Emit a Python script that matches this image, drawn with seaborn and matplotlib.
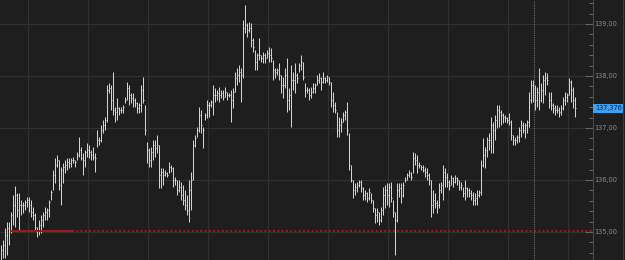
import matplotlib
matplotlib.use("Agg")
import matplotlib.pyplot as plt
import matplotlib.transforms as mtransforms
from matplotlib.lines import Line2D
from matplotlib.ticker import MultipleLocator, FuncFormatter
import pandas as pd
import seaborn as sns

# OHLC-style bars (one bar every ~2 px)
highs = [
    134.75, 134.85, 135.08, 135.19, 135.19, 135.38, 135.71, 135.89, 135.75, 135.75,
    135.62, 135.58, 135.62, 135.67, 135.67, 135.62, 135.48, 135.37, 135.10, 135.23,
    135.33, 135.38, 135.48, 135.46, 135.62, 135.81, 136.19, 136.42, 136.48, 136.38,
    136.25, 136.33, 136.38, 136.42, 136.42, 136.42, 136.44, 136.38, 136.54, 136.83,
    136.63, 136.52, 136.58, 136.71, 136.67, 136.58, 136.63, 136.52, 136.96, 136.83,
    137.06, 137.15, 137.21, 137.83, 137.87, 137.83, 138.08, 137.40, 137.58, 137.40,
    137.40, 137.44, 137.60, 137.88, 137.83, 137.67, 137.67, 137.58, 137.50, 137.48,
    137.83, 137.98, 137.44, 136.73, 136.62, 136.63, 136.77, 136.77, 136.87, 136.67,
    136.23, 136.23, 136.19, 136.15, 136.35, 136.29, 136.25, 136.06, 136.00, 136.00,
    135.96, 135.90, 135.81, 135.71, 136.00, 136.15, 136.77, 136.87, 137.02, 137.40,
    137.35, 137.02, 137.29, 137.54, 137.50, 137.54, 137.83, 137.77, 137.73, 137.79,
    137.73, 137.73, 137.79, 137.69, 137.67, 137.73, 137.77, 138.08, 138.15, 138.21,
    138.15, 139.08, 139.37, 139.02, 139.04, 139.02, 138.73, 138.50, 138.44, 138.73,
    138.40, 138.46, 138.44, 138.50, 138.56, 138.54, 138.31, 138.15, 138.15, 138.25,
    138.02, 137.98, 138.15, 138.35, 137.77, 138.21, 138.08, 138.25, 138.06, 138.25,
    138.40, 138.27, 137.87, 137.79, 137.77, 137.79, 137.87, 137.87, 138.02, 138.06,
    137.98, 138.08, 137.98, 138.02, 137.98, 137.88, 137.69, 137.50, 137.31, 137.21,
    137.19, 137.31, 137.35, 137.50, 136.90, 136.29, 136.00, 135.94, 135.96, 136.00,
    136.00, 135.87, 135.81, 135.77, 135.85, 135.75, 135.62, 135.46, 135.46, 135.38,
    135.48, 135.87, 135.90, 135.94, 135.94, 135.96, 135.62, 135.38, 135.94, 135.94,
    135.94, 135.96, 136.06, 136.13, 136.19, 136.15, 136.54, 136.52, 136.48, 136.35,
    136.29, 136.29, 136.25, 136.23, 136.13, 136.00, 135.81, 135.75, 135.62, 135.94,
    135.96, 136.29, 136.23, 136.13, 136.00, 136.10, 136.06, 136.10, 136.06, 136.00,
    135.96, 135.87, 136.00, 135.87, 135.85, 135.81, 135.77, 135.75, 135.81, 135.81,
    136.38, 136.81, 136.63, 136.83, 136.90, 137.21, 137.12, 137.25, 137.44, 137.44,
    137.35, 137.29, 137.25, 137.21, 137.29, 137.15, 136.87, 136.83, 136.87, 137.02,
    137.15, 137.12, 137.10, 137.15, 137.69, 137.92, 137.92, 137.83, 137.79, 138.15,
    137.87, 138.02, 138.08, 138.06, 137.69, 137.69, 137.48, 137.44, 137.44, 137.40,
    137.44, 137.60, 137.69, 137.67, 137.96, 137.92, 137.79, 137.60,
]
lows = [
    134.42, 134.50, 134.50, 134.56, 134.75, 134.98, 135.13, 135.10, 135.29, 135.04,
    135.33, 135.37, 135.42, 135.48, 135.38, 135.29, 135.23, 135.04, 134.90, 134.94,
    134.98, 135.10, 135.23, 135.23, 135.29, 135.62, 135.81, 135.94, 136.25, 135.81,
    135.52, 135.94, 136.13, 136.19, 136.23, 136.25, 136.33, 136.25, 136.38, 136.44,
    136.38, 136.10, 136.25, 136.44, 136.42, 136.38, 136.38, 136.15, 136.63, 136.67,
    136.73, 136.90, 136.96, 137.12, 137.67, 137.35, 137.25, 137.12, 137.15, 137.25,
    137.29, 137.29, 137.48, 137.54, 137.44, 137.48, 137.40, 137.40, 137.29, 137.29,
    137.31, 137.48, 136.87, 136.33, 136.25, 136.25, 136.38, 136.44, 136.52, 135.85,
    135.85, 135.90, 136.08, 136.06, 136.13, 136.15, 135.87, 135.90, 135.71, 135.77,
    135.62, 135.52, 135.42, 135.33, 135.19, 135.42, 136.00, 136.63, 136.83, 136.92,
    136.90, 136.62, 137.15, 137.19, 137.21, 137.40, 137.25, 137.50, 137.54, 137.50,
    137.58, 137.54, 137.60, 137.54, 137.60, 137.12, 137.38, 137.69, 137.83, 137.88,
    137.50, 137.96, 138.83, 138.75, 138.85, 138.56, 138.46, 138.12, 138.12, 138.31,
    138.27, 138.25, 138.25, 138.35, 138.27, 138.27, 137.92, 137.96, 138.02, 137.92,
    137.67, 137.58, 137.77, 137.31, 137.35, 137.02, 137.73, 137.67, 137.87, 138.08,
    138.12, 137.92, 137.60, 137.67, 137.54, 137.58, 137.67, 137.67, 137.83, 137.87,
    137.73, 137.87, 137.87, 137.88, 137.83, 137.40, 137.31, 137.29, 136.83, 136.83,
    136.92, 137.12, 137.15, 136.87, 136.19, 135.96, 135.65, 135.71, 135.77, 135.87,
    135.77, 135.62, 135.62, 135.58, 135.62, 135.56, 135.38, 135.17, 135.19, 135.13,
    135.19, 135.33, 135.46, 135.52, 135.48, 135.58, 135.29, 134.56, 135.19, 135.67,
    135.56, 135.67, 135.96, 136.00, 136.06, 136.00, 136.13, 136.29, 136.13, 136.23,
    136.19, 136.15, 136.06, 136.00, 135.90, 135.29, 135.37, 135.46, 135.37, 135.46,
    135.75, 135.62, 135.87, 135.87, 135.81, 135.90, 135.87, 135.94, 135.90, 135.81,
    135.81, 135.67, 135.62, 135.67, 135.67, 135.62, 135.52, 135.52, 135.52, 135.67,
    135.71, 136.25, 136.23, 136.44, 136.58, 136.52, 136.52, 136.77, 137.00, 137.02,
    137.06, 137.10, 137.12, 137.10, 137.06, 136.77, 136.67, 136.67, 136.71, 136.73,
    136.83, 136.90, 136.81, 136.90, 137.02, 137.48, 137.50, 137.35, 137.40, 137.35,
    137.50, 137.48, 137.63, 137.83, 137.38, 137.35, 137.29, 137.25, 137.29, 137.21,
    137.25, 137.35, 137.44, 137.50, 137.63, 137.50, 137.38, 137.21,
]
closes = [
    134.65, 134.75, 134.94, 135.08, 135.04, 135.33, 135.52, 135.71, 135.42, 135.52,
    135.52, 135.52, 135.58, 135.62, 135.52, 135.38, 135.33, 135.10, 135.04, 135.13,
    135.23, 135.33, 135.38, 135.42, 135.58, 135.77, 136.10, 136.29, 136.38, 135.90,
    136.19, 136.25, 136.29, 136.35, 136.33, 136.38, 136.38, 136.35, 136.48, 136.58,
    136.42, 136.38, 136.54, 136.58, 136.54, 136.48, 136.44, 136.42, 136.77, 136.77,
    136.96, 137.06, 137.15, 137.73, 137.77, 137.54, 137.35, 137.31, 137.38, 137.35,
    137.35, 137.40, 137.54, 137.77, 137.63, 137.58, 137.54, 137.48, 137.38, 137.44,
    137.73, 137.54, 136.96, 136.58, 136.38, 136.54, 136.67, 136.62, 136.67, 136.10,
    136.15, 136.10, 136.13, 136.10, 136.25, 136.23, 136.00, 136.00, 135.81, 135.87,
    135.71, 135.62, 135.52, 135.42, 135.81, 136.00, 136.67, 136.81, 136.96, 137.25,
    137.06, 136.96, 137.25, 137.44, 137.44, 137.50, 137.63, 137.63, 137.67, 137.63,
    137.67, 137.60, 137.69, 137.63, 137.63, 137.54, 137.69, 137.96, 138.02, 138.08,
    138.02, 138.92, 138.98, 138.88, 138.92, 138.69, 138.56, 138.27, 138.40, 138.40,
    138.35, 138.40, 138.35, 138.44, 138.40, 138.35, 138.12, 138.08, 138.12, 138.02,
    137.83, 137.83, 138.02, 137.54, 137.63, 137.92, 137.92, 138.02, 137.96, 138.21,
    138.27, 137.98, 137.73, 137.73, 137.63, 137.69, 137.77, 137.83, 137.92, 137.96,
    137.88, 137.96, 137.92, 137.98, 137.88, 137.54, 137.44, 137.35, 136.96, 137.06,
    137.12, 137.25, 137.31, 136.96, 136.29, 136.00, 135.81, 135.87, 135.90, 135.96,
    135.85, 135.71, 135.75, 135.65, 135.77, 135.62, 135.46, 135.33, 135.38, 135.23,
    135.42, 135.71, 135.81, 135.71, 135.87, 135.65, 135.38, 135.23, 135.81, 135.85,
    135.71, 135.90, 136.00, 136.10, 136.13, 136.06, 136.42, 136.38, 136.29, 136.29,
    136.25, 136.19, 136.15, 136.10, 136.00, 135.52, 135.62, 135.56, 135.52, 135.81,
    135.90, 136.15, 136.06, 135.96, 135.90, 136.04, 135.96, 136.04, 136.00, 135.87,
    135.90, 135.75, 135.85, 135.81, 135.75, 135.71, 135.62, 135.65, 135.71, 135.77,
    136.29, 136.48, 136.58, 136.77, 136.77, 137.06, 136.96, 137.15, 137.35, 137.31,
    137.25, 137.21, 137.19, 137.15, 137.12, 136.87, 136.77, 136.77, 136.83, 136.96,
    137.06, 136.96, 137.06, 137.12, 137.54, 137.83, 137.63, 137.54, 137.69, 137.54,
    137.73, 137.92, 137.96, 137.92, 137.54, 137.44, 137.38, 137.35, 137.35, 137.31,
    137.38, 137.54, 137.60, 137.63, 137.88, 137.73, 137.54, 137.376,
]

last_price = 137.376
red_level = 135.02
y_ticks = [135, 136, 137, 138, 139]

BG = "#1e1e1e"
GRID = "#313131"
BAR = "#d9d9d9"
LABEL = "#8c8c8c"

df = pd.DataFrame({"high": highs, "low": lows, "close": closes})
df["i"] = range(len(df))

sns.set_theme(style="darkgrid", rc={
    "axes.facecolor": BG,
    "figure.facecolor": BG,
    "grid.color": GRID,
    "grid.linewidth": 0.8,
    "axes.edgecolor": "#4a4a4a",
})
plt.rcParams["font.family"] = ["DejaVu Sans"]

fig = plt.figure(figsize=(6.25, 2.6), dpi=100)
ax = fig.add_axes([0, 0, 593 / 625, 1])

# high-low bars and close ticks
ax.vlines(df["i"], df["low"], df["high"], color=BAR, linewidth=0.7)
ax.hlines(df["close"], df["i"], df["i"] + 0.5, color=BAR, linewidth=0.7)

# red level: solid at the start then dotted
ax.hlines(red_level, 4.5, 35.5, color="#a3191b", linewidth=1.4)
ax.hlines(red_level, 35.5, 296, color="#a3191b", linewidth=1.4,
          linestyles=(0, (1, 1.2)))

# dotted crosshair
ax.axvline(266.5, color="#6e6e6e", linewidth=0.8, linestyle=(0, (1, 1)))

ax.set_xlim(-0.5, 296)
ax.set_ylim(134.4615, 139.4615)

ax.set_xticks([13.5 + 30 * k for k in range(10)])
ax.set_xticklabels([])
ax.tick_params(axis="x", length=0)

ax.yaxis.tick_right()
ax.set_yticks(y_ticks)
ax.yaxis.set_minor_locator(MultipleLocator(0.2))
ax.yaxis.set_major_formatter(FuncFormatter(lambda v, p: f"{v:.2f}".replace(".", ",")))
ax.tick_params(axis="y", which="major", direction="in", length=6, width=0.7,
               color="#6a6a6a", labelcolor=LABEL, labelsize=4.8, pad=1.2, right=True)
ax.tick_params(axis="y", which="minor", direction="in", length=3, width=0.7,
               color="#6a6a6a", right=True)
ax.grid(True, which="major", color=GRID, linewidth=0.8)
ax.grid(False, which="minor")

for side in ["top", "left", "bottom"]:
    ax.spines[side].set_visible(False)
ax.spines["right"].set_color("#4a4a4a")
ax.spines["right"].set_linewidth(0.8)

# last price tag
trans = mtransforms.blended_transform_factory(ax.transAxes, ax.transData)
ax.text(1.003, last_price, f"{last_price:.3f}".replace(".", ","), transform=trans,
        ha="left", va="center", fontsize=4.7, color="#0f2440",
        bbox=dict(boxstyle="square,pad=0.2", fc="#3fa0f0", ec="none"), clip_on=False)

fig.add_artist(Line2D([622.5 / 625] * 2, [0, 1], transform=fig.transFigure,
                      color="#3c3c3c", linewidth=0.8))

fig.savefig("out.png", dpi=100, facecolor=BG)
